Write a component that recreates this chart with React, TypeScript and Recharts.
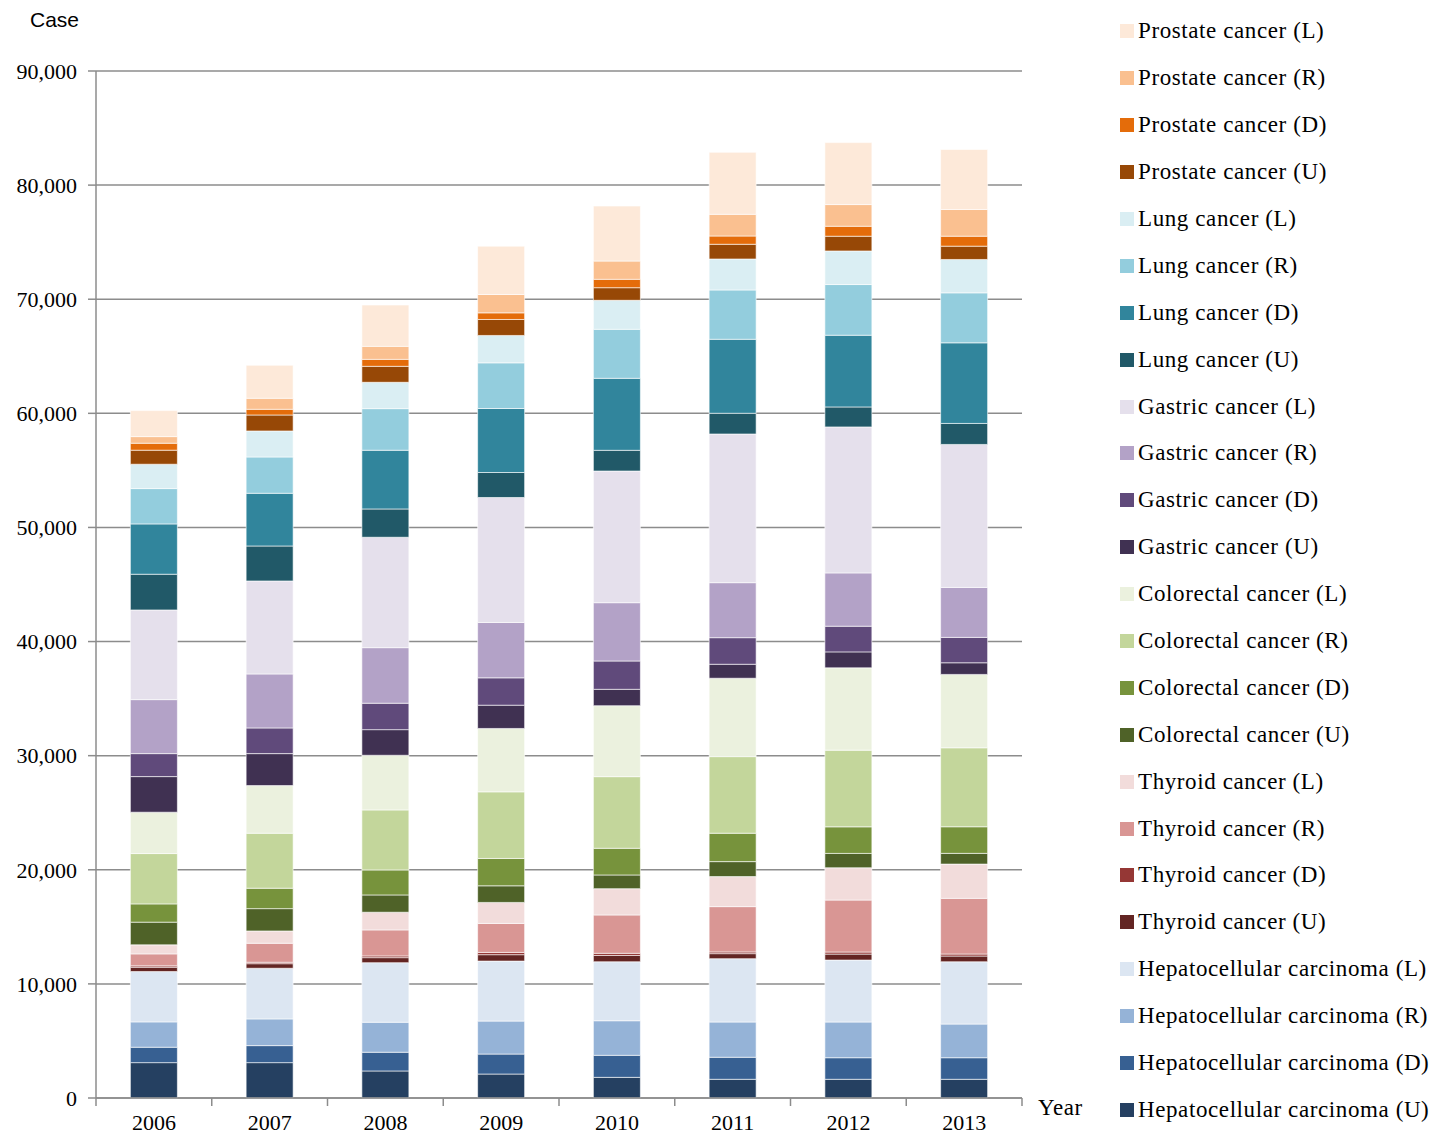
import { BarChart, Bar, XAxis, YAxis, CartesianGrid } from "recharts";

const YEARS = ["2006", "2007", "2008", "2009", "2010", "2011", "2012", "2013"];
const Y_TICKS = [0, 10000, 20000, 30000, 40000, 50000, 60000, 70000, 80000, 90000];

// case counts per stage (bottom to top)
const hepU = [3100, 3100, 2370, 2100, 1810, 1640, 1640, 1640];
const hepD = [1350, 1490, 1640, 1750, 1930, 1930, 1890, 1890];
const hepR = [2220, 2340, 2630, 2890, 3030, 3090, 3130, 2950];
const hepL = [4410, 4440, 5220, 5260, 5170, 5550, 5430, 5460];
const thyU = [380, 400, 440, 560, 550, 440, 520, 500];
const thyD = [120, 125, 150, 200, 190, 150, 180, 175];
const thyR = [1050, 1665, 2280, 2540, 3360, 3970, 4555, 4880];
const thyL = [790, 1080, 1550, 1840, 2305, 2630, 2830, 3005];
const colU = [1990, 1955, 1515, 1455, 1200, 1315, 1260, 940];
const colD = [1600, 1790, 2190, 2400, 2340, 2490, 2330, 2330];
const colR = [4410, 4820, 5260, 5835, 6275, 6710, 6720, 6920];
const colL = [3625, 4170, 4790, 5555, 6220, 6870, 7210, 6430];
const gasU = [3120, 2805, 2245, 2040, 1435, 1225, 1400, 1020];
const gasD = [2015, 2250, 2315, 2395, 2480, 2330, 2250, 2225];
const gasR = [4730, 4730, 4870, 4855, 5110, 4820, 4670, 4380];
const gasL = [7860, 8150, 9675, 10950, 11540, 13030, 12795, 12530];
const lungU = [3130, 3065, 2480, 2190, 1815, 1815, 1750, 1840];
const lungD = [4410, 4620, 5145, 5610, 6310, 6485, 6285, 7065];
const lungR = [3095, 3180, 3645, 4000, 4295, 4320, 4440, 4380];
const lungL = [2135, 2280, 2310, 2400, 2540, 2715, 2945, 2925];
const proU = [1230, 1400, 1400, 1400, 1105, 1290, 1290, 1165];
const proD = [610, 500, 610, 580, 735, 725, 875, 875];
const proR = [580, 965, 1140, 1610, 1600, 1900, 1900, 2340];
const proL = [2280, 2890, 3620, 4235, 4820, 5435, 5430, 5255];

const series = [
  { key: "hepU", label: "Hepatocellular carcinoma (U)", values: hepU, color: "#254061" },
  { key: "hepD", label: "Hepatocellular carcinoma (D)", values: hepD, color: "#376092" },
  { key: "hepR", label: "Hepatocellular carcinoma (R)", values: hepR, color: "#95b3d7" },
  { key: "hepL", label: "Hepatocellular carcinoma (L)", values: hepL, color: "#dce6f2" },
  { key: "thyU", label: "Thyroid cancer (U)", values: thyU, color: "#632523" },
  { key: "thyD", label: "Thyroid cancer (D)", values: thyD, color: "#953735" },
  { key: "thyR", label: "Thyroid cancer (R)", values: thyR, color: "#d99694" },
  { key: "thyL", label: "Thyroid cancer (L)", values: thyL, color: "#f2dcdb" },
  { key: "colU", label: "Colorectal cancer (U)", values: colU, color: "#4f6228" },
  { key: "colD", label: "Colorectal cancer (D)", values: colD, color: "#77933c" },
  { key: "colR", label: "Colorectal cancer (R)", values: colR, color: "#c3d69b" },
  { key: "colL", label: "Colorectal cancer (L)", values: colL, color: "#ebf1de" },
  { key: "gasU", label: "Gastric cancer (U)", values: gasU, color: "#403152" },
  { key: "gasD", label: "Gastric cancer (D)", values: gasD, color: "#604a7b" },
  { key: "gasR", label: "Gastric cancer (R)", values: gasR, color: "#b3a2c7" },
  { key: "gasL", label: "Gastric cancer (L)", values: gasL, color: "#e5e0ec" },
  { key: "lungU", label: "Lung cancer (U)", values: lungU, color: "#215968" },
  { key: "lungD", label: "Lung cancer (D)", values: lungD, color: "#31859c" },
  { key: "lungR", label: "Lung cancer (R)", values: lungR, color: "#93cddd" },
  { key: "lungL", label: "Lung cancer (L)", values: lungL, color: "#daeef3" },
  { key: "proU", label: "Prostate cancer (U)", values: proU, color: "#974806" },
  { key: "proD", label: "Prostate cancer (D)", values: proD, color: "#e46c0a" },
  { key: "proR", label: "Prostate cancer (R)", values: proR, color: "#fac090" },
  { key: "proL", label: "Prostate cancer (L)", values: proL, color: "#fde9d9" },
];

const data = YEARS.map((year, i) => {
  const row: Record<string, string | number> = { year };
  series.forEach((s) => { row[s.key] = s.values[i]; });
  return row;
});

const SERIF = "'Liberation Serif', 'Times New Roman', serif";
const GRID = "#8c8c8c";
const BAND = (1022 - 96) / YEARS.length;

function YearTick(props: any) {
  const { x, y, payload, index } = props;
  return (
    <g>
      <line x1={x - BAND / 2} y1={y - 8} x2={x - BAND / 2} y2={y} stroke={GRID} strokeWidth={1.5} />
      {index === YEARS.length - 1 && (
        <line x1={x + BAND / 2} y1={y - 8} x2={x + BAND / 2} y2={y} stroke={GRID} strokeWidth={1.5} />
      )}
      <text x={x} y={y + 24} textAnchor="middle" fontFamily={SERIF} fontSize={22} fill="#000">
        {payload.value}
      </text>
    </g>
  );
}

function CaseLegend() {
  return (
    <div style={{ position: "absolute", left: 1120, top: 8, fontFamily: SERIF, fontSize: 23,
                  letterSpacing: 0.6, color: "#000" }}>
      {[...series].reverse().map((s) => (
        <div key={s.key} style={{ height: 46.9, display: "flex", alignItems: "center", whiteSpace: "nowrap" }}>
          <span style={{ width: 14, height: 14, background: s.color, marginRight: 4, display: "inline-block" }} />
          {s.label}
        </div>
      ))}
    </div>
  );
}

export default function App() {
  return (
    <div style={{ position: "absolute", left: 0, top: 0, width: 1449, height: 1135, background: "#fff" }}>
      <BarChart width={1449} height={1135} data={data}
                margin={{ top: 71, right: 427, bottom: 0, left: 0 }}
                barCategoryGap="29.7%">
        <CartesianGrid vertical={false} stroke={GRID} strokeWidth={1.5} />
        <XAxis dataKey="year" height={37} tickLine={false} tick={<YearTick />}
               axisLine={{ stroke: GRID, strokeWidth: 1.5 }} interval={0} />
        <YAxis width={96} domain={[0, 90000]} ticks={Y_TICKS} interval={0}
               tickFormatter={(v: number) => v.toLocaleString("en-US")}
               axisLine={{ stroke: GRID, strokeWidth: 1.5 }} tickLine={{ stroke: GRID, strokeWidth: 1.5 }}
               tickSize={8} tickMargin={11}
               tick={{ fontFamily: SERIF, fontSize: 22, fill: "#000" }} />
        {series.map((s) => (
          <Bar key={s.key} dataKey={s.key} name={s.label} stackId="cases" fill={s.color}
               stroke="#ffffff" strokeWidth={0.6} isAnimationActive={false} />
        ))}
      </BarChart>
      <div style={{ position: "absolute", left: 30, top: 8, fontFamily: "'Liberation Sans', Arial, sans-serif", fontSize: 21 }}>
        Case
      </div>
      <div style={{ position: "absolute", left: 1038, top: 1095, fontFamily: SERIF, fontSize: 23, letterSpacing: 0.6 }}>
        Year
      </div>
      <CaseLegend />
    </div>
  );
}
